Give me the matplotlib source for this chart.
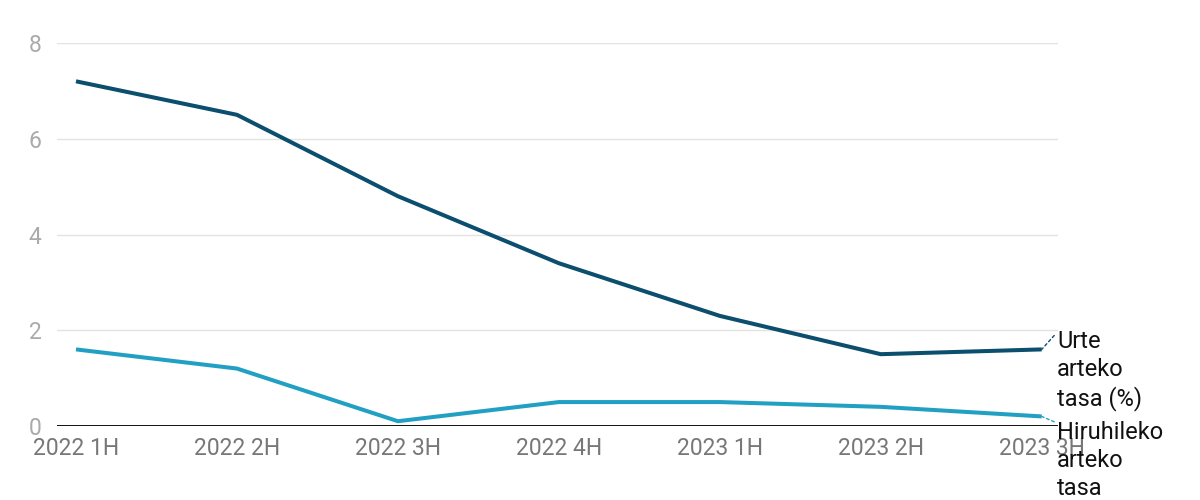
import matplotlib
matplotlib.use("Agg")
import matplotlib.pyplot as plt

categories = ["2022 1H", "2022 2H", "2022 3H", "2022 4H", "2023 1H", "2023 2H", "2023 3H"]
urte_arteko = [7.2, 6.5, 4.8, 3.4, 2.3, 1.5, 1.6]
hiruhileko = [1.6, 1.2, 0.1, 0.5, 0.5, 0.4, 0.2]
y_ticks = [0, 2, 4, 6, 8]
label_urte = "Urte\narteko\ntasa (%)"
label_hiru = "Hiruhileko\narteko\ntasa"

dark = "#0b4e6d"
light = "#22a0c3"

plt.rcParams["font.family"] = ["Roboto", "DejaVu Sans"]

fig = plt.figure(figsize=(12, 5), dpi=100)
ax = fig.add_axes([0.0475, 0.148, 0.834, 0.766])

x = list(range(len(categories)))
for yt in y_ticks[1:]:
    ax.axhline(yt, color="#e3e3e3", lw=1.0, zorder=0)
ax.axhline(0, color="#111111", lw=1.4, zorder=1)

ax.plot(x, urte_arteko, color=dark, lw=2.9, solid_capstyle="butt", zorder=3)
ax.plot(x, hiruhileko, color=light, lw=2.9, solid_capstyle="butt", zorder=3)

ax.set_xlim(-0.118, 6.1)
ax.set_ylim(0, 8)
ax.set_xticks(x)
ax.set_xticklabels(categories)
ax.set_yticks(y_ticks)
ax.set_yticklabels([str(v) for v in y_ticks])
ax.tick_params(axis="both", length=0, labelsize=16.5, colors="#9a9a9a")
ax.tick_params(axis="x", pad=8, labelcolor="#777777")
ax.tick_params(axis="y", pad=11, labelcolor="#aaaaaa")
for s in ax.spines.values():
    s.set_visible(False)

# end labels with dotted connectors
ax.annotate(label_urte, xy=(x[-1], urte_arteko[-1]), xytext=(11, 14),
            textcoords="offset points", ha="left", va="top", fontsize=17,
            color="#111111", linespacing=1.28, annotation_clip=False,
            arrowprops=dict(arrowstyle="-", color=dark, ls=(0, (2, 2)), lw=1.0,
                            shrinkA=0, shrinkB=0, relpos=(0, 0.97)))
ax.annotate(label_hiru, xy=(x[-1], hiruhileko[-1]), xytext=(11, -3),
            textcoords="offset points", ha="left", va="top", fontsize=17,
            color="#111111", linespacing=1.28, annotation_clip=False,
            arrowprops=dict(arrowstyle="-", color=light, ls=(0, (2, 2)), lw=1.0,
                            shrinkA=0, shrinkB=0, relpos=(0, 0.97)))

fig.savefig("out.png", dpi=100, facecolor="white")
